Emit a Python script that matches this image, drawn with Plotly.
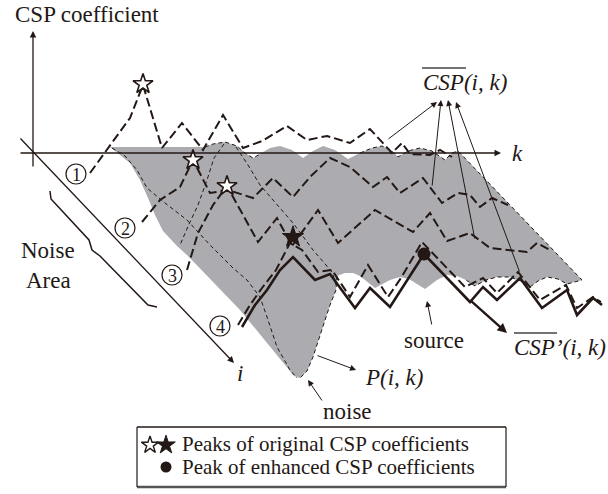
import plotly.graph_objects as go

INK = "#231815"
GRAY = "#acacb0"
FONT = "serif"

# ---- gray region P(i,k) (schematic pixel space) ----
region_x = [110, 205, 213, 225, 237, 245, 253, 262, 270, 280, 292, 303, 313, 323, 335, 348, 360, 372, 382, 391, 398, 408, 420, 432, 445, 452, 458,
            582, 574, 567, 558, 547, 538, 530, 521, 510, 497, 486, 475, 466, 457, 447, 437, 425, 417, 409, 400, 390, 375, 367, 360, 353, 345, 337,
            336, 330, 322, 313, 307, 300, 294, 240, 188, 177, 163, 155, 148, 140, 130, 110]
region_y = [147, 147, 144, 142, 146, 153, 158, 153, 148, 146, 150, 158, 151, 146, 150, 159, 153, 148, 146, 150, 157, 151, 148, 151, 160, 153, 151,
            280, 282, 284, 279, 277, 281, 287, 281, 277, 277, 280, 286, 280, 276, 275, 280, 289, 284, 279, 277, 280, 288, 282, 276, 273, 273, 276,
            290, 305, 330, 357, 371, 378, 376, 310, 256, 246, 231, 215, 198, 180, 163, 147]

# dashed outline pieces of the region
edge_right_x = [452, 458, 582, 574, 567, 558, 547, 538, 530, 521, 510, 497, 486, 475, 466]
edge_right_y = [153, 151, 280, 282, 284, 279, 277, 281, 287, 281, 277, 277, 280, 286, 280]
edge_top_x = [360, 372, 382, 391, 398, 408, 420, 432, 445, 452]
edge_top_y = [153, 148, 146, 150, 157, 151, 148, 151, 160, 153]
edge_hump_x = [205, 213, 225, 237, 245, 253, 262]
edge_hump_y = [147, 144, 142, 146, 153, 158, 153]
edge_spike_x = [337, 336, 330, 322, 313, 307, 300]
edge_spike_y = [276, 290, 305, 330, 357, 371, 378]

# thin dashed P(i,k) cross-sections
noise_x = [112, 125, 137, 147, 165, 187, 210, 233, 247, 260, 267, 277, 290, 297]
noise_y = [148, 156, 170, 188, 203, 220, 245, 268, 280, 297, 317, 347, 370, 378]
ridge_b_x = [224, 214, 207, 198, 190, 180]
ridge_b_y = [144, 158, 180, 205, 222, 245]
ridge_c_x = [236, 248, 260, 273, 293, 313, 332, 336]
ridge_c_y = [147, 165, 185, 200, 223, 250, 272, 285]

# ---- CSP coefficient curves i = 1..4 ----
csp1_x = [90, 130, 143, 162, 182, 203, 223, 243, 262, 287, 307, 327, 350, 370, 392, 402, 410, 430, 440, 452]
csp1_y = [173, 118, 85, 148, 123, 150, 115, 148, 141, 126, 140, 136, 143, 129, 153, 143, 154, 155, 150, 157]
csp2_x = [142, 160, 180, 193, 210, 228, 253, 273, 293, 310, 330, 350, 373, 387, 400, 423, 442, 458, 470, 480, 492, 508]
csp2_y = [222, 200, 187, 160, 193, 190, 198, 178, 197, 177, 158, 167, 187, 177, 193, 178, 203, 193, 195, 207, 198, 205]
csp3_x = [187, 198, 213, 227, 258, 277, 292, 318, 338, 375, 413, 430, 447, 470, 490, 527, 537, 550]
csp3_y = [270, 233, 205, 186, 242, 218, 246, 210, 243, 210, 232, 213, 241, 233, 248, 252, 243, 250]
csp4_x = [238, 250, 262, 276, 290, 302, 318, 332, 350, 368, 388, 401, 422, 465, 483, 497, 518, 540, 566, 577, 593, 601]
csp4_y = [325, 305, 288, 270, 243, 250, 272, 270, 297, 265, 297, 278, 242, 287, 278, 293, 272, 300, 285, 308, 297, 302]
# enhanced curve CSP'(i,k)
enh_x = [242, 255, 267, 280, 293, 315, 330, 355, 370, 390, 424, 470, 483, 497, 520, 542, 567, 577, 593, 602]
enh_y = [327, 305, 290, 270, 257, 280, 274, 308, 288, 307, 254, 302, 287, 300, 278, 308, 290, 315, 298, 305]

# peaks
peak_open_x = [143, 193, 227]
peak_open_y = [84, 160, 186]
peak_fill_x = [293]
peak_fill_y = [237]
peak_enh_x = [424]
peak_enh_y = [254]

# circled indices
idx_labels = ["1", "2", "3", "4"]
idx_x = [76, 125, 172, 220]
idx_y = [174, 228, 275, 326]

# brace for "Noise Area"
brace_x = [50, 51, 89, 92, 100, 148, 157]
brace_y = [191, 199, 240, 250, 256, 305, 307]

# arrows pointing to the CSP(i,k) label (tail -> head)
lbl_tail_x = [387, 432, 475, 520]
lbl_tail_y = [140, 187, 240, 273]
lbl_head_x = [437, 441, 448, 456]
lbl_head_y = [102, 100, 100, 102]

# legend box
box_x = [137, 506, 506, 137, 137]
box_y = [427, 427, 487, 487, 427]

fig = go.Figure()

fig.add_trace(go.Scatter(x=region_x, y=region_y, mode="lines", fill="toself",
                         fillcolor=GRAY, line=dict(width=0), hoverinfo="skip"))

thin = dict(color=INK, width=1, dash="4px,3px")
for xs, ys in [(edge_right_x, edge_right_y), (edge_top_x, edge_top_y), (edge_hump_x, edge_hump_y),
               (edge_spike_x, edge_spike_y), (noise_x, noise_y), (ridge_b_x, ridge_b_y), (ridge_c_x, ridge_c_y)]:
    fig.add_trace(go.Scatter(x=xs, y=ys, mode="lines", line=thin, hoverinfo="skip"))

thick = dict(color=INK, width=2, dash="9px,4px")
for xs, ys in [(csp1_x, csp1_y), (csp2_x, csp2_y), (csp3_x, csp3_y), (csp4_x, csp4_y)]:
    fig.add_trace(go.Scatter(x=xs, y=ys, mode="lines", line=thick, hoverinfo="skip"))

fig.add_trace(go.Scatter(x=enh_x, y=enh_y, mode="lines", line=dict(color=INK, width=2.6), hoverinfo="skip"))

fig.add_trace(go.Scatter(x=brace_x, y=brace_y, mode="lines", line=dict(color=INK, width=1.5), hoverinfo="skip"))
fig.add_trace(go.Scatter(x=box_x[:2], y=box_y[:2], mode="lines", line=dict(color=INK, width=1.3), hoverinfo="skip"))
fig.add_trace(go.Scatter(x=box_x[2:4], y=box_y[2:4], mode="lines", line=dict(color="#555", width=2.6), hoverinfo="skip"))
fig.add_trace(go.Scatter(x=[box_x[1], box_x[2]], y=[box_y[1], box_y[2]], mode="lines", line=dict(color=INK, width=1.2), hoverinfo="skip"))
fig.add_trace(go.Scatter(x=[box_x[3], box_x[4]], y=[box_y[3], box_y[4]], mode="lines", line=dict(color=INK, width=1.2), hoverinfo="skip"))

# peaks
fig.add_trace(go.Scatter(x=peak_open_x, y=peak_open_y, mode="markers",
                         marker=dict(symbol="star", size=15, color="white", line=dict(color=INK, width=1.6)), hoverinfo="skip"))
fig.add_trace(go.Scatter(x=peak_fill_x, y=peak_fill_y, mode="markers",
                         marker=dict(symbol="star", size=16, color=INK, line=dict(color=INK, width=1)), hoverinfo="skip"))
fig.add_trace(go.Scatter(x=peak_enh_x, y=peak_enh_y, mode="markers",
                         marker=dict(symbol="circle", size=13, color=INK), hoverinfo="skip"))

# legend symbols
fig.add_trace(go.Scatter(x=[150], y=[445], mode="markers",
                         marker=dict(symbol="star", size=13, color="white", line=dict(color=INK, width=1.4)), hoverinfo="skip"))
fig.add_trace(go.Scatter(x=[166], y=[445], mode="markers",
                         marker=dict(symbol="star", size=14, color=INK, line=dict(color=INK, width=1)), hoverinfo="skip"))
fig.add_trace(go.Scatter(x=[166], y=[467], mode="markers",
                         marker=dict(symbol="circle", size=11, color=INK), hoverinfo="skip"))

# circles of the indices
fig.add_trace(go.Scatter(x=idx_x, y=idx_y, mode="markers",
                         marker=dict(symbol="circle-open", size=20, color=INK, line=dict(width=1.2)), hoverinfo="skip"))

# overlines
fig.add_trace(go.Scatter(x=[422, 466], y=[68, 68], mode="lines", line=dict(color="#444", width=1.3), hoverinfo="skip"))
fig.add_trace(go.Scatter(x=[514, 557], y=[333, 333], mode="lines", line=dict(color="#444", width=1.3), hoverinfo="skip"))

ann = []

def label(x, y, s, size=23, xanchor="center", style="normal"):
    ann.append(dict(x=x, y=y, xref="x", yref="y", text=s, showarrow=False, xanchor=xanchor,
                    font=dict(family=FONT, size=size, color=INK, style=style)))

label(13, 14, "CSP coefficient", xanchor="left")
label(517, 153, "k", style="italic")
label(240, 373, "i", style="italic")
label(465, 82, "CSP(i, k)", style="italic")
label(560, 347, "CSP’(i, k)", style="italic")
label(434, 340, "source")
label(363, 377, "P(i, k)", xanchor="left", style="italic")
label(347, 411, "noise")
label(48, 250, "Noise")
label(48, 280, "Area")
label(180, 444, "Peaks of original CSP coefficients", size=21, xanchor="left")
label(180, 467, "Peak of enhanced CSP coefficients", size=21, xanchor="left")
for lx, ly, lt in zip(idx_x, idx_y, idx_labels):
    label(lx, ly + 1, lt, size=18)

def arrow(hx, hy, tx, ty, w=1.0, size=1.0, head=2):
    ann.append(dict(x=hx, y=hy, ax=tx, ay=ty, xref="x", yref="y", axref="x", ayref="y",
                    showarrow=True, arrowhead=head, arrowsize=size, arrowwidth=w, arrowcolor=INK,
                    standoff=0, text=""))

# coordinate axes
arrow(33, 31, 33, 168, w=1.3, size=1.0)
arrow(501, 153, 19, 153, w=1.3, size=1.0)
arrow(234, 363, 19, 137, w=1.3, size=1.0)
# label arrows
for hx, hy, tx, ty in zip(lbl_head_x, lbl_head_y, lbl_tail_x, lbl_tail_y):
    arrow(hx, hy, tx, ty, w=1.0, size=1.2)
arrow(507, 333, 470, 300, w=2.4, size=0.8)
arrow(427, 301, 432, 326, w=1.0, size=1.2)
arrow(356, 370, 316, 355, w=1.0, size=1.2)
arrow(308, 380, 323, 402, w=1.0, size=1.2)

fig.update_layout(width=608, height=494, margin=dict(l=0, r=0, t=0, b=0),
                  font=dict(family=FONT, color=INK),
                  paper_bgcolor="white", plot_bgcolor="white", showlegend=False,
                  xaxis=dict(range=[0, 608], visible=False, fixedrange=True),
                  yaxis=dict(range=[494, 0], visible=False, fixedrange=True),
                  annotations=ann)

fig.write_html("out.html")
